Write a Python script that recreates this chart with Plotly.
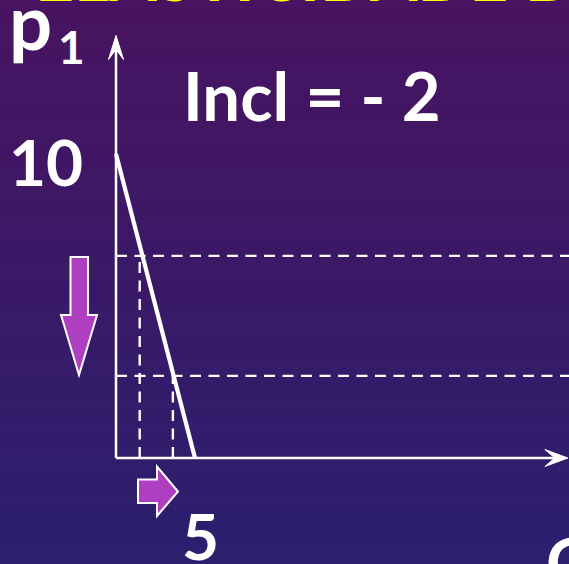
import plotly.graph_objects as go

# ---------------- data ----------------
Q_demand = [0, 5]          # quantity
p_demand = [10, 0]         # price
p_levels = [6.65, 2.7]     # two price levels (dashed)
Q_levels = [1.5, 3.6]      # corresponding quantities (dashed)
Q_axis_end = 28.6
p_axis_end = 13.9
label_p_intercept = "10"
label_q_intercept = "5"
slope_text = "Incl = - 2"
title_text = "ELASTICIDADE DA DEMANDA"

# ---------------- layout geometry ----------------
W, H = 569, 564
x_range = [-7.342, 28.671]
y_range = [-3.487, 15.066]
kx = W / (x_range[1] - x_range[0])   # px per unit Q
ky = H / (y_range[1] - y_range[0])   # px per unit p


def px2d(px, py):
    return x_range[0] + px / kx, y_range[1] - py / ky


def path_px(points, origin=None):
    pts = []
    for (dx, dy) in points:
        if origin is None:
            q, p = px2d(dx, dy)
        else:
            q = origin[0] + dx / kx
            p = origin[1] - dy / ky
        pts.append(f"{q:.4f},{p:.4f}")
    return "M" + " L".join(pts) + " Z"


WHITE = "#ffffff"
PURPLE = "#ae3fc0"
FONT = "Lato"

fig = go.Figure()

# dashed horizontal levels
for pl in p_levels:
    fig.add_trace(go.Scatter(x=[0, x_range[1]], y=[pl, pl], mode="lines",
                             line=dict(color=WHITE, width=2.4, dash="11px,7.5px"),
                             hoverinfo="skip", showlegend=False))
# dashed vertical levels
for ql, pl in zip(Q_levels, p_levels):
    fig.add_trace(go.Scatter(x=[ql, ql], y=[0, pl], mode="lines",
                             line=dict(color=WHITE, width=2.4, dash="11px,7.5px"),
                             hoverinfo="skip", showlegend=False))
# axes
fig.add_trace(go.Scatter(x=[0, Q_axis_end - 12 / kx], y=[0, 0], mode="lines",
                         line=dict(color=WHITE, width=2.5), hoverinfo="skip", showlegend=False))
fig.add_trace(go.Scatter(x=[0, 0], y=[0, p_axis_end - 12 / ky], mode="lines",
                         line=dict(color=WHITE, width=2.5), hoverinfo="skip", showlegend=False))
# demand line
fig.add_trace(go.Scatter(x=Q_demand, y=p_demand, mode="lines",
                         line=dict(color=WHITE, width=4.2), hoverinfo="skip", showlegend=False))

shapes = []
# background gradient bands
top = (72, 19, 96)
bot = (43, 31, 110)
nb = 94
for i in range(nb):
    t = i / (nb - 1)
    c = tuple(int(round(top[k] + (bot[k] - top[k]) * t)) for k in range(3))
    shapes.append(dict(type="rect", xref="paper", yref="paper", layer="below",
                       x0=0, x1=1, y0=1 - (i + 1) / nb - 0.002, y1=1 - i / nb,
                       line=dict(width=0), fillcolor=f"rgb{c}"))

# axis arrowheads (barbed)
shapes.append(dict(type="path", xref="x", yref="y", layer="above",
                   path=path_px([(0, 0), (-23, -8.5), (-13, 0), (-23, 8.5)], origin=(Q_axis_end, 0)),
                   fillcolor=WHITE, line=dict(color=WHITE, width=1)))
shapes.append(dict(type="path", xref="x", yref="y", layer="above",
                   path=path_px([(0, 0), (-7.5, 24), (0, 14), (7.5, 24)], origin=(0, p_axis_end)),
                   fillcolor=WHITE, line=dict(color=WHITE, width=1)))

# purple block arrows (decoration)
shapes.append(dict(type="path", xref="x", yref="y", layer="above",
                   path=path_px([(70.5, 257), (88, 257), (88, 315), (97, 315), (79, 375),
                                 (61, 315), (70.5, 315)]),
                   fillcolor=PURPLE, line=dict(color=WHITE, width=2)))
shapes.append(dict(type="path", xref="x", yref="y", layer="above",
                   path=path_px([(138, 479.5), (157, 479.5), (157, 466.5), (178, 491.5),
                                 (157, 516), (157, 503), (138, 503)]),
                   fillcolor=PURPLE, line=dict(color=WHITE, width=2)))

annotations = []


def txt(text, q, p, size, color=WHITE, xanchor="center", xref="x", yref="y"):
    annotations.append(dict(text=text, x=q, y=p, xref=xref, yref=yref,
                            showarrow=False, xanchor=xanchor, yanchor="middle",
                            font=dict(family=FONT, size=size, color=color, weight="bold")))


annotations.append(dict(text=title_text, x=33 / W, y=1 + 25 / H, xref="paper", yref="paper",
                        showarrow=False, xanchor="left", yanchor="middle",
                        font=dict(family=FONT, size=68, color="#ffff00", weight="bold")))
txt("p", *px2d(30, 20), 76)
txt("1", *px2d(71, 46), 46)
txt(label_p_intercept, *px2d(46, 161), 64)
txt(slope_text, *px2d(312, 95), 67)
txt(label_q_intercept, *px2d(200, 535), 64)
txt("Q", *px2d(544, 561), 67, xanchor="left")

fig.update_layout(
    width=W, height=H, autosize=False,
    margin=dict(l=0, r=0, t=0, b=0, pad=0),
    paper_bgcolor="rgb(43,31,110)", plot_bgcolor="rgba(0,0,0,0)",
    xaxis=dict(range=x_range, visible=False, fixedrange=True),
    yaxis=dict(range=y_range, visible=False, fixedrange=True),
    shapes=shapes, annotations=annotations, showlegend=False,
)

fig.write_html("out.html", config={"displayModeBar": False},
               post_script="document.body.style.margin='0px';document.body.style.overflow='hidden';")
